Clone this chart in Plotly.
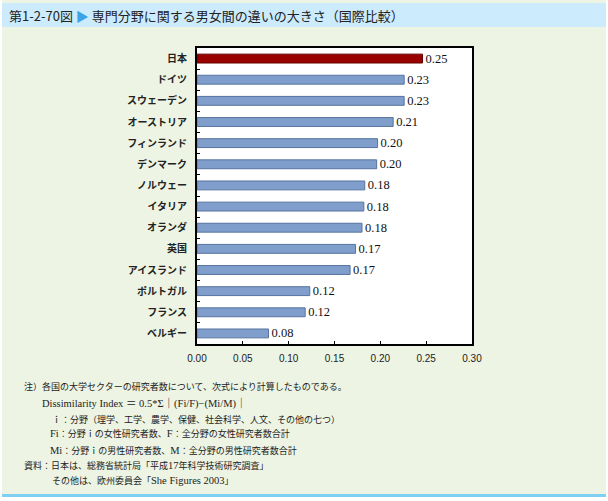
import plotly.graph_objects as go

countries = ["日本", "ドイツ", "スウェーデン", "オーストリア", "フィンランド", "デンマーク",
             "ノルウェー", "イタリア", "オランダ", "英国", "アイスランド", "ポルトガル",
             "フランス", "ベルギー"]
values = [0.246, 0.226, 0.226, 0.214, 0.197, 0.196, 0.183, 0.182, 0.180, 0.173,
          0.167, 0.123, 0.118, 0.078]
x_ticks = [0.00, 0.05, 0.10, 0.15, 0.20, 0.25, 0.30]

W, H = 608, 501
L, R, T, B = 197, 472, 48, 344
PW, PH = R - L, B - T

def px(x):
    return (x - L) / PW

def py(y):
    return (B - y) / PH

colors = ["#990000"] + ["#7F9ECB"] * (len(countries) - 1)
lines = ["#660000"] + ["#56739F"] * (len(countries) - 1)

fig = go.Figure()
fig.add_trace(go.Bar(
    x=values, y=countries, orientation="h",
    marker=dict(color=colors, line=dict(color=lines, width=1)),
    width=0.42,
    text=values, texttemplate="%{x:.2f}", textposition="outside",
    constraintext="none",
    outsidetextfont=dict(family="Liberation Serif, serif", size=12.5, color="#111"),
    cliponaxis=False, hoverinfo="skip",
))

shapes = [
    dict(type="rect", xref="paper", yref="paper", x0=px(2), x1=px(606), y0=py(0), y1=py(497),
         fillcolor="#EDF4E3", line=dict(width=0), layer="below"),
    dict(type="rect", xref="paper", yref="paper", x0=px(2), x1=px(606), y0=py(3), y1=py(27),
         fillcolor="#CCEBFD", line=dict(width=0), layer="below"),
    dict(type="rect", xref="paper", yref="paper", x0=px(2), x1=px(606), y0=py(494), y1=py(497),
         fillcolor="#7FCFF3", line=dict(width=0), layer="below"),
    dict(type="rect", xref="paper", yref="paper", x0=0, x1=1, y0=0, y1=1,
         fillcolor="white", line=dict(width=0), layer="below"),
]

jp = "Noto Sans CJK JP"
serif = "Liberation Serif, Noto Sans CJK JP"

def lat(s):
    return f"<span style='font-size:10.5px'>{s}</span>"

annotations = [
    dict(text="第1-2-70図 <span style='color:#3BA3E6'>▶</span> 専門分野に関する男女間の違いの大きさ（国際比較）",
         x=px(7), y=py(15), xref="paper", yref="paper", xanchor="left", yanchor="middle",
         showarrow=False, font=dict(family=jp, size=13, color="#222")),
]
notes = [
    (22, 386, "注）各国の大学セクターの研究者数について、次式により計算したものである。"),
    (40, 403, lat("Dissimilarity Index ＝ 0.5*Σ｜(Fi/F)−(Mi/M)｜")),
    (50, 419, "ｉ：分野（理学、工学、農学、保健、社会科学、人文、その他の七つ）"),
    (48, 434, lat("Fi") + "：分野ｉの女性研究者数、" + lat("F") + "：全分野の女性研究者数合計"),
    (48, 450, lat("Mi") + "：分野ｉの男性研究者数、" + lat("M") + "：全分野の男性研究者数合計"),
    (22, 465, "資料：日本は、総務省統計局「平成" + lat("17") + "年科学技術研究調査」"),
    (50, 481, "その他は、欧州委員会「" + lat("She Figures 2003") + "」"),
]
for x, y, t in notes:
    annotations.append(dict(text=t, x=px(x), y=py(y), xref="paper", yref="paper",
                            xanchor="left", yanchor="middle", showarrow=False,
                            font=dict(family=serif, size=9, color="#222")))

fig.update_layout(
    width=W, height=H,
    margin=dict(l=L, r=W - R, t=T, b=H - B, pad=0),
    paper_bgcolor="white", plot_bgcolor="rgba(0,0,0,0)",
    showlegend=False,
    shapes=shapes, annotations=annotations,
    xaxis=dict(range=[0, 0.30], tickvals=x_ticks, ticktext=[f"{v:.2f}" for v in x_ticks],
               showgrid=False, zeroline=False, showline=True, mirror=True,
               linecolor="black", linewidth=2, ticks="inside", ticklen=3, tickcolor="black",
               ticklabelstandoff=4,
               tickfont=dict(family="Liberation Sans, Arial", size=10, color="#222")),
    yaxis=dict(autorange="reversed", showgrid=False, zeroline=False, showline=True, mirror=True,
               linecolor="black", linewidth=2, ticks="inside", ticklen=3, tickcolor="black",
               tickson="boundaries", ticklabelstandoff=6,
               tickfont=dict(family=jp, size=10, color="#222", weight="bold")),
)

fig.write_html("out.html")
